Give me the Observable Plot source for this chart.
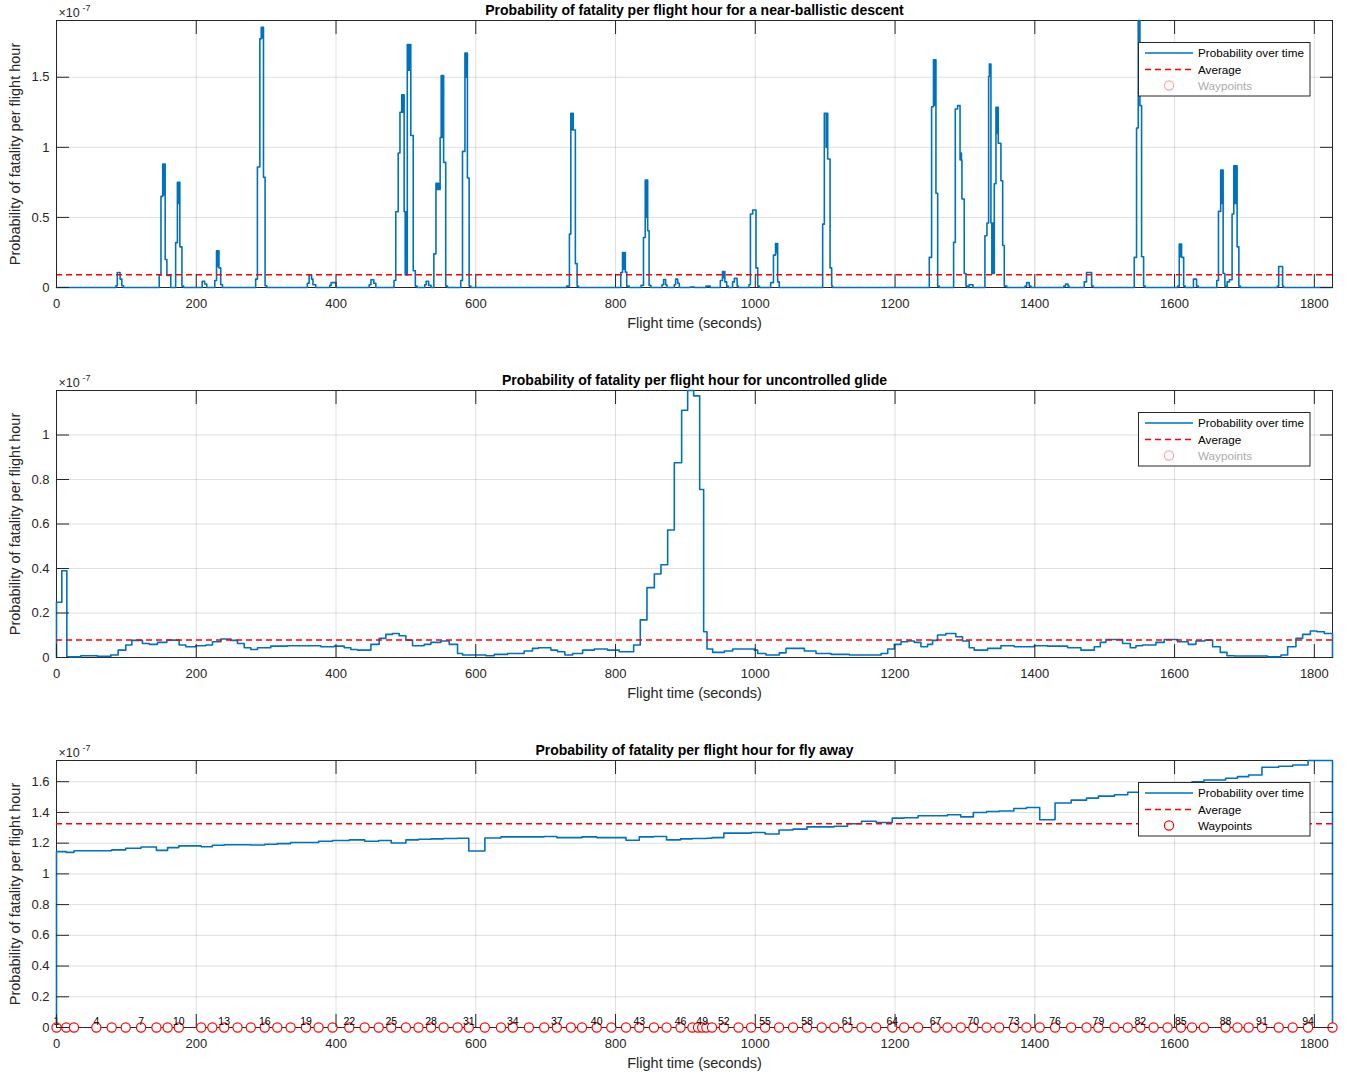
<!DOCTYPE html>
<html><head><meta charset="utf-8">
<script src="https://cdn.jsdelivr.net/npm/d3@7"></script>
<script src="https://cdn.jsdelivr.net/npm/@observablehq/plot@0.6"></script>
<style>
body{margin:0;background:#fff;}
#chart svg{display:block;}
</style></head><body><div id="chart"></div>
<script>
// ---------- data ----------
const xTicks = [0, 200, 400, 600, 800, 1000, 1200, 1400, 1600, 1800];
const descentTicks = [0, 0.5, 1, 1.5];
const glideTicks = [0, 0.2, 0.4, 0.6, 0.8, 1];
const flyAwayTicks = [0, 0.2, 0.4, 0.6, 0.8, 1, 1.2, 1.4, 1.6];
const titles = [
  "Probability of fatality per flight hour for a near-ballistic descent",
  "Probability of fatality per flight hour for uncontrolled glide",
  "Probability of fatality per flight hour for fly away"
];
const xLabel = "Flight time (seconds)";
const yLabel = "Probability of fatality per flight hour";
const legendLabels = ["Probability over time", "Average", "Waypoints"];
const averages = [0.091, 0.0785, 1.326];

// near-ballistic descent: [time s, probability x1e-7] step starts
const descentSteps = [[0,0],
 [85,0.012],[87,0.107],[91,0.06],[93.5,0.012],[96,0],
 [147,0.09],[149.5,0.65],[152,0.88],[153,0.66],[154,0.88],[155.5,0.2],[158,0.086],[163.5,0],
 [170.5,0.32],[173,0.75],[174.5,0.6],[175.5,0.75],[176.5,0.29],[179.5,0.01],[182,0],
 [208.5,0.045],[212,0.025],[215,0],
 [226.5,0.05],[229,0.262],[230.5,0.15],[231.5,0.262],[232.5,0.14],[235,0.02],[237.5,0],
 [285,0.06],[287.5,0.86],[291,1.774],[293,1.857],[294.5,1.78],[295,1.857],[296.2,0.786],[298.5,0.012],[301,0],
 [359,0.03],[361.5,0.09],[365,0.06],[367,0.02],[371,0],
 [391,0.015],[393,0.035],[400,0],
 [447.5,0.02],[450,0.055],[454,0.03],[457,0],
 [483,0.05],[485.5,0.54],[489,0.96],[491.5,1.25],[494,1.374],[495.5,1.25],[496.5,1.374],[497.5,0.54],[499,0.09],[500,0.54],[501,0.09],[502,1.734],[504,1.55],[505,1.734],[507,1.084],[510.5,0.12],[513.5,0.01],[516,0],
 [527,0.02],[529,0.045],[532.5,0.015],[536,0],
 [540,0.24],[543,0.743],[545,0.7],[546,0.743],[547,0.7],[549,1.07],[550.5,1.512],[552,1.07],[553,1.512],[554,0.893],[557,0.01],[559.5,0],
 [578.5,0.05],[581,0.971],[584.5,1.672],[586,1.5],[587,1.672],[588,0.781],[590.5,0.01],[593,0],
 [730,0.01],[734,0.381],[736,1.243],[737.5,1.124],[738.5,1.243],[739.5,1.124],[742.5,0.17],[745,0.01],[747,0],
 [807.5,0.107],[810,0.25],[811.5,0.13],[812.5,0.25],[814,0.11],[816,0.01],[819.5,0],
 [836.5,0.015],[840,0.357],[842.5,0.767],[844,0.5],[845,0.767],[846,0.405],[848,0.015],[850.5,0],
 [866.5,0.02],[868.8,0.057],[871.7,0.02],[873.6,0],
 [884,0.02],[886,0.06],[889,0.03],[891.3,0],
 [907,0.004],[913,0],
 [929.5,0.01],[935.5,0],
 [950,0.05],[953,0.114],[954.5,0.07],[955.5,0.114],[956.5,0.04],[959,0.01],[961.3,0],
 [967.5,0.04],[970,0.065],[974,0.01],[975.7,0],
 [991,0.02],[993,0.524],[996.3,0.553],[1001,0.14],[1003.5,0.01],[1006,0],
 [1022,0.035],[1026,0.231],[1029,0.314],[1030,0.25],[1031,0.314],[1032,0.04],[1034.3,0],
 [1096.4,0.452],[1098.8,1.243],[1101.5,1.0],[1102.5,1.243],[1103.6,0.917],[1107,0.14],[1109.3,0.01],[1110.7,0],
 [1249,0.215],[1252.3,1.29],[1255,1.624],[1256.5,1.3],[1257.5,1.624],[1258.5,0.672],[1261,0.01],[1263.2,0],
 [1283.8,0.322],[1286.2,1.274],[1289.5,1.298],[1293,0.91],[1294,0.96],[1295,0.91],[1295.7,0.631],[1299,0.1],[1301.5,0.01],[1303.8,0],
 [1306,0.02],[1311.5,0],
 [1328.6,0.369],[1331.5,0.46],[1333.9,1.505],[1335,1.595],[1337.2,0.46],[1338.5,0.1],[1339.5,0.46],[1340.5,0.1],[1342,0.74],[1344.4,1.286],[1345.5,1.1],[1346.5,1.286],[1347.7,1.029],[1351.5,0.762],[1354,0.3],[1356.3,0.01],[1360,0],
 [1386,0.01],[1388.3,0.035],[1392,0.01],[1394.5,0],
 [1441.5,0.01],[1444,0.025],[1447.5,0.01],[1449,0],
 [1470.8,0.04],[1474,0.107],[1481.3,0.01],[1483.7,0],
 [1542.3,0.215],[1545.6,1.138],[1548,1.905],[1549,1.4],[1549.7,1.905],[1550.4,1.298],[1552.8,0.219],[1555.7,0.01],[1558,0],
 [1604.3,0.01],[1606.7,0.31],[1608,0.22],[1609,0.31],[1610,0.215],[1613,0.01],[1615.3,0],
 [1627,0.06],[1631.5,0.01],[1634,0],
 [1660.4,0.05],[1662.8,0.543],[1666,0.838],[1667,0.6],[1668,0.838],[1669.5,0.1],[1672,0.01],[1674.2,0],
 [1675.2,0.04],[1678.5,0.055],[1682.3,0.524],[1684.7,0.869],[1686.5,0.6],[1687.5,0.869],[1689.5,0.29],[1692,0.01],[1694.2,0],
 [1747,0.01],[1749,0.15],[1754.6,0.01],[1756,0],
 [1826,0]];

// uncontrolled glide: [time s, probability x1e-7] step starts
const glideSteps = [[0,0],[0,0.248],[7.6,0.39],[14.8,0.003],[34.8,0.008],[58.6,0.005],[77.7,0.011],[88.2,0.033],
 [99.2,0.056],[107.8,0.077],[123,0.063],[132.6,0.059],[144.5,0.068],[157.9,0.078],[175.5,0.056],[185.1,0.048],
 [199.4,0.053],[213.7,0.056],[223.2,0.071],[235.2,0.083],[249.5,0.077],[259,0.063],[268.6,0.044],[278.1,0.036],
 [287.6,0.044],[306.7,0.051],[330.6,0.053],[378.3,0.048],[397.4,0.051],[411.7,0.044],[421.2,0.036],[430.8,0.033],
 [449.9,0.059],[461.8,0.086],[471.3,0.104],[480.9,0.108],[490.4,0.098],[500,0.078],[509.5,0.053],[526.2,0.059],
 [535.7,0.068],[550,0.074],[562,0.059],[573.9,0.018],[581.1,0.011],[593,0.011],[614.4,0.008],[626.4,0.014],
 [645.5,0.018],[669.3,0.029],[681.2,0.041],[689.4,0.044],[707.5,0.033],[717,0.026],[727.5,0.011],[738.5,0.018],
 [752.9,0.033],[769.5,0.038],[788.6,0.033],[805.3,0.026],[825.9,0.056],[835.4,0.169],[845,0.314],[855.5,0.375],
 [865,0.417],[874.6,0.573],[884.1,0.875],[894.6,1.111],[903.2,1.2],[911.8,1.176],[920.4,0.755],[926.1,0.116],
 [930.9,0.038],[939,0.023],[955.7,0.029],[967.6,0.038],[998.6,0.033],[1003.4,0.018],[1015.3,0.011],[1034.4,0.021],
 [1044,0.041],[1070.2,0.029],[1086.9,0.018],[1108.4,0.014],[1134.6,0.011],[1180,0.018],[1189.5,0.038],[1199,0.059],
 [1208.6,0.071],[1218,0.074],[1227.4,0.068],[1237,0.048],[1246.5,0.059],[1253.7,0.077],[1260.8,0.101],[1272.7,0.108],
 [1287,0.093],[1296.6,0.074],[1306.1,0.044],[1313.3,0.033],[1332.4,0.041],[1351.5,0.053],[1370.5,0.048],[1399.2,0.053],
 [1418.3,0.051],[1446.9,0.044],[1466,0.033],[1485.1,0.048],[1493.7,0.068],[1501.8,0.081],[1525.6,0.063],[1536.6,0.044],
 [1544.7,0.053],[1554.2,0.056],[1573.3,0.068],[1585.3,0.081],[1604.3,0.071],[1619.6,0.059],[1630.6,0.074],[1643.5,0.078],
 [1654.4,0.048],[1665.4,0.023],[1675,0.008],[1685.5,0.007],[1733.2,0.003],[1752.3,0.011],[1761.8,0.048],[1773.7,0.086],
 [1783.3,0.104],[1794.3,0.119],[1803.8,0.116],[1814.3,0.108],[1826,0.108],[1826,0]];

// fly away: waypoint times (s) and the value held on each leg between waypoints
const waypointTime = [0,14,25,57,79,99,121,143,159,175,207,223,240,259,278,298,316,335,357,375,
 395,419,441,461,479,500,518,536,554,574,590,613,636,653,676,698,716,736,752,773,
 794,815,834,855,873,893,910,918,924,930,938,955,976,994,1014,1034,1054,1074,1095,1113,
 1132,1152,1173,1196,1213,1233,1258,1275,1294,1312,1331,1349,1370,1388,1407,1429,1452,1474,1491,1514,
 1533,1551,1570,1590,1609,1625,1642,1673,1690,1706,1725,1749,1769,1791,1826];
const flyAwayProb = [1.145,1.140,1.151,1.151,1.156,1.167,1.175,1.153,1.171,1.182,
 1.177,1.186,1.190,1.190,1.188,1.193,1.197,1.204,1.204,1.212,
 1.217,1.221,1.212,1.217,1.201,1.221,1.225,1.228,1.230,1.232,
 1.149,1.234,1.241,1.241,1.241,1.243,1.236,1.236,1.241,1.236,
 1.236,1.219,1.241,1.243,1.221,1.228,1.230,1.230,1.230,1.232,
 1.236,1.265,1.265,1.269,1.260,1.286,1.291,1.306,1.306,1.310,
 1.326,1.343,1.334,1.363,1.365,1.378,1.378,1.385,1.371,1.400,
 1.406,1.409,1.426,1.432,1.352,1.461,1.480,1.493,1.506,1.515,
 1.531,1.540,1.550,1.560,1.575,1.600,1.611,1.622,1.633,1.644,
 1.694,1.701,1.709,1.738];
const labeledWaypoints = [1,4,7,10,13,16,19,22,25,28,31,34,37,40,43,46,49,52,55,58,61,64,67,70,73,76,79,82,85,88,91,94];

// ---------- styling ----------
const FONT = '"Liberation Sans", Arial, Helvetica, sans-serif';
const INK = "#262626";
const BLUE = "#0072BD";
const RED = "#FF0000";
const W = 1349;

function stepsTable(pairs) { return pairs.map(([t, v]) => ({t, v})); }

const descent = stepsTable(descentSteps);
const glide = stepsTable(glideSteps);
const lastT = waypointTime[waypointTime.length - 1];
const flyAway = [{t: 0, v: 0}]
  .concat(flyAwayProb.map((v, i) => ({t: waypointTime[i], v})))
  .concat([{t: lastT, v: flyAwayProb[flyAwayProb.length - 1]}, {t: lastT, v: 0}]);
const waypoints = waypointTime.map((t, i) => ({t, v: 0, n: i + 1}));
const waypointText = waypoints.filter(d => labeledWaypoints.includes(d.n));

function panel({title, series, yTicks, avg, height, marginBottom, showWaypoints}) {
  const yMax = d3.max(series, d => d.v);
  const marks = [
    Plot.gridX({ticks: xTicks, stroke: INK, strokeOpacity: 0.15, strokeWidth: 1}),
    Plot.gridY({ticks: yTicks, stroke: INK, strokeOpacity: 0.15, strokeWidth: 1}),
    Plot.frame({stroke: INK, strokeWidth: 1}),
    Plot.line(series, {x: "t", y: "v", curve: "step-after", stroke: BLUE, strokeWidth: 1.6}),
    Plot.ruleY([avg], {stroke: RED, strokeWidth: 1.5, strokeDasharray: "6,4"})
  ];
  if (showWaypoints) {
    marks.push(
      Plot.dot(waypoints, {x: "t", y: "v", r: 4.6, stroke: RED, fill: "white", strokeWidth: 1.2}),
      Plot.text(waypointText, {x: "t", y: "v", text: d => String(d.n), dy: -3, lineAnchor: "bottom", textAnchor: "middle", fontSize: 10.5, fill: "#000"})
    );
  }
  marks.push(
    Plot.axisX({ticks: xTicks, anchor: "bottom", tickSize: -13, fill: "none", stroke: INK, label: null}),
    Plot.axisX({ticks: xTicks, anchor: "top", tickSize: -13, fill: "none", stroke: INK, label: null}),
    Plot.axisX({ticks: xTicks, anchor: "bottom", tickSize: 0, tickPadding: 11, tickFormat: d => `${d}`, fill: INK, fontSize: 13, label: null}),
    Plot.axisY({ticks: yTicks, anchor: "left", tickSize: -13, fill: "none", stroke: INK, label: null}),
    Plot.axisY({ticks: yTicks, anchor: "right", tickSize: -13, fill: "none", stroke: INK, label: null}),
    Plot.axisY({ticks: yTicks, anchor: "left", tickSize: 0, tickPadding: 7, tickFormat: d => `${d}`, fill: INK, fontSize: 13, label: null}),
    Plot.text([title], {frameAnchor: "top", dy: -10, lineAnchor: "middle", textAnchor: "middle", fontWeight: "bold", fontSize: 14, fill: "#000"}),
    Plot.text([xLabel], {frameAnchor: "bottom", dy: 36, lineAnchor: "middle", textAnchor: "middle", fontSize: 14.5, fill: INK}),
    Plot.text([yLabel], {frameAnchor: "left", dx: -41, rotate: -90, lineAnchor: "middle", textAnchor: "middle", fontSize: 14.5, fill: INK}),
    Plot.text(["×10"], {frameAnchor: "top-left", dx: 2, dy: -4, textAnchor: "start", lineAnchor: "bottom", fontSize: 12.5, fill: INK}),
    Plot.text(["-7"], {frameAnchor: "top-left", dx: 26, dy: -10, textAnchor: "start", lineAnchor: "bottom", fontSize: 9, fill: INK})
  );
  const svg = Plot.plot({
    width: W, height,
    marginTop: 20, marginLeft: 56, marginRight: 17, marginBottom,
    x: {domain: [0, lastT]},
    y: {domain: [0, yMax]},
    style: {fontFamily: FONT, fontSize: "13px", color: INK, background: "white", overflow: "visible"},
    marks
  });
  addLegend(svg, showWaypoints);
  return svg;
}

function addLegend(svg, active) {
  const g = d3.select(svg).append("g")
    .attr("font-family", FONT).attr("font-size", 11.7).attr("text-anchor", "start");
  g.append("rect").attr("x", 1138.5).attr("y", 42.5).attr("width", 171.5).attr("height", 53.5)
    .attr("fill", "white").attr("stroke", INK).attr("stroke-width", 1);
  const rows = [53, 69.5, 85.5];
  g.append("line").attr("x1", 1145).attr("x2", 1193).attr("y1", rows[0]).attr("y2", rows[0])
    .attr("stroke", BLUE).attr("stroke-width", 1.6);
  g.append("line").attr("x1", 1145).attr("x2", 1193).attr("y1", rows[1]).attr("y2", rows[1])
    .attr("stroke", RED).attr("stroke-width", 1.5).attr("stroke-dasharray", "6,4");
  g.append("circle").attr("cx", 1169).attr("cy", rows[2]).attr("r", 4.6)
    .attr("fill", "none").attr("stroke", active ? RED : "#FFA3A3").attr("stroke-width", 1.2);
  legendLabels.forEach((label, i) => {
    g.append("text").attr("x", 1198).attr("y", rows[i]).attr("dy", "0.35em").attr("text-anchor", "start")
      .attr("fill", (i === 2 && !active) ? "#ABABAB" : "#000").text(label);
  });
}

const root = document.getElementById("chart");
root.appendChild(panel({title: titles[0], series: descent, yTicks: descentTicks, avg: averages[0], height: 370, marginBottom: 83, showWaypoints: false}));
root.appendChild(panel({title: titles[1], series: glide, yTicks: glideTicks, avg: averages[1], height: 370, marginBottom: 83, showWaypoints: false}));
root.appendChild(panel({title: titles[2], series: flyAway, yTicks: flyAwayTicks, avg: averages[2], height: 332, marginBottom: 45, showWaypoints: true}));
</script>
</body></html>
